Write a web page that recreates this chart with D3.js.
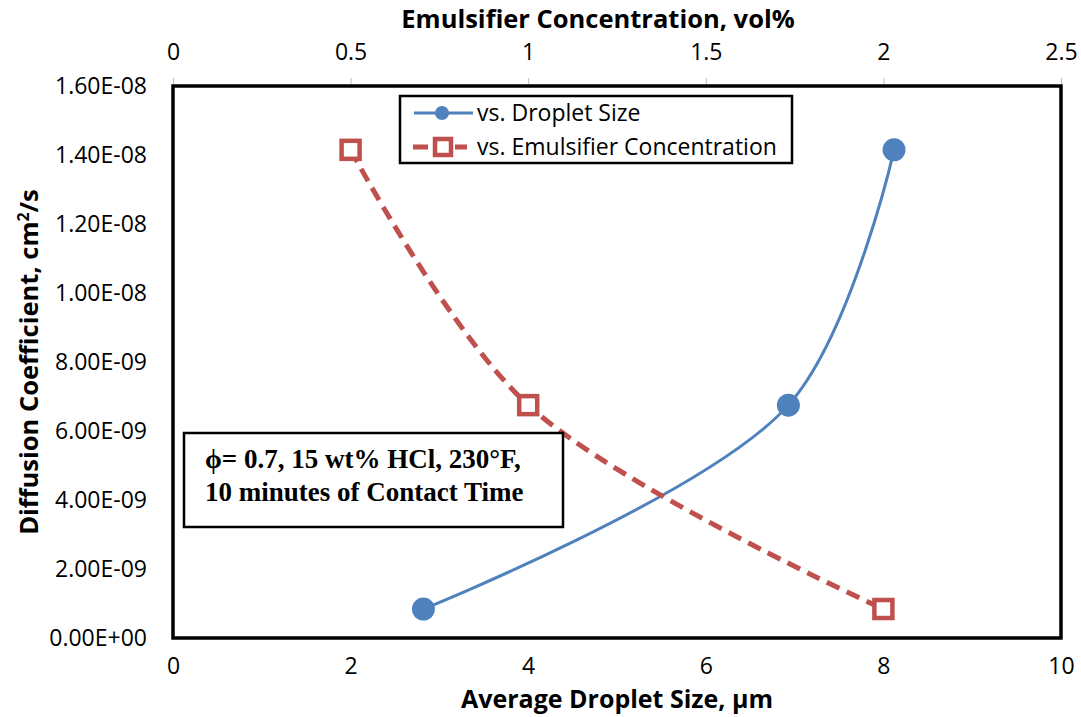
<!DOCTYPE html>
<html>
<head>
<meta charset="utf-8">
<script src="https://cdn.jsdelivr.net/npm/d3@7"></script>
<style>
  body { margin: 0; background: #fff; }
  text { font-family: "Open Sans", "Noto Sans", sans-serif; }
</style>
</head>
<body>
<svg id="chart"></svg>
<script>
const width = 1081;
const height = 717;

// data
var dropletSize = [2.82, 6.93, 8.12];
var dropletDiff = [8.4e-10, 6.75e-9, 1.415e-8];
var emulsConc = [0.5, 1, 2];
var emulsDiff = [1.415e-8, 6.75e-9, 8.4e-10];
var yTicks = [0, 2e-9, 4e-9, 6e-9, 8e-9, 1e-8, 1.2e-8, 1.4e-8, 1.6e-8];
var xTicks = [0, 2, 4, 6, 8, 10];
var x2Ticks = [0, 0.5, 1, 1.5, 2, 2.5];
var seriesNames = ["vs. Droplet Size", "vs. Emulsifier Concentration"];
var noteLines = ["\u03d5= 0.7, 15 wt% HCl, 230\u00b0F,", "10 minutes of Contact Time"];

const blue = "#4f81bd";
const red = "#c0504d";

// plot box (note: "top" is reserved on window, so use other names)
var pL = 173, pR = 1061, pT = 86, pB = 638;

var xScale = d3.scaleLinear().domain([0, 10]).range([pL, pR]);
var x2Scale = d3.scaleLinear().domain([0, 2.5]).range([pL, pR]);
var yScale = d3.scaleLinear().domain([0, 1.6e-8]).range([pB, pT]);

var svg = d3.select("#chart").attr("width", width).attr("height", height);

var tickFont = 23, titleFont = 25.5;

// y axis labels
var fmtE = (v) => {
  var s = v.toExponential(2).toUpperCase();
  return s.replace(/E([+-])(\d)$/, "E$10$2");
};
svg.append("g")
  .attr("transform", `translate(${pL},0)`)
  .call(d3.axisLeft(yScale).tickValues(yTicks).tickFormat(fmtE).tickSize(0).tickPadding(26))
  .call(g => g.select(".domain").remove())
  .selectAll("text")
  .attr("font-size", tickFont).attr("fill", "#000")
  .style("font-family", "'Open Sans', sans-serif");

// bottom axis
svg.append("g")
  .attr("transform", `translate(0,${pB})`)
  .call(d3.axisBottom(xScale).tickValues(xTicks).tickFormat(d3.format("d")).tickSize(0))
  .call(g => g.select(".domain").remove())
  .selectAll("text")
  .attr("y", 36).attr("dy", 0)
  .attr("font-size", tickFont).attr("fill", "#000")
  .style("font-family", "'Open Sans', sans-serif");

// top axis
var topAxis = svg.append("g")
  .attr("transform", `translate(0,${pT})`)
  .call(d3.axisTop(x2Scale).tickValues(x2Ticks).tickFormat(d => d).tickSize(8))
  .call(g => g.select(".domain").remove());
topAxis.selectAll("line").attr("stroke", "#bbb");
topAxis.selectAll("text")
  .attr("y", -26).attr("dy", 0)
  .attr("font-size", tickFont).attr("fill", "#000")
  .style("font-family", "'Open Sans', sans-serif");

// plot frame
svg.append("rect")
  .attr("x", pL).attr("y", pT)
  .attr("width", pR - pL).attr("height", pB - pT)
  .attr("fill", "none").attr("stroke", "#000").attr("stroke-width", 3.5);

// axis titles
svg.append("text")
  .attr("x", 598).attr("y", 28)
  .attr("text-anchor", "middle")
  .attr("font-size", titleFont).attr("font-weight", "bold")
  .text("Emulsifier Concentration, vol%");

svg.append("text")
  .attr("x", 617).attr("y", 708)
  .attr("text-anchor", "middle")
  .attr("font-size", 25).attr("font-weight", "bold")
  .text("Average Droplet Size, \u00b5m");

var yTitle = svg.append("text")
  .attr("transform", `translate(38,${(pT + pB) / 2}) rotate(-90)`)
  .attr("text-anchor", "middle")
  .attr("font-size", titleFont).attr("font-weight", "bold");
yTitle.append("tspan").text("Diffusion Coefficient, cm");
yTitle.append("tspan").attr("dy", -9).attr("font-size", 16).text("2");
yTitle.append("tspan").attr("dy", 9).text("/s");

// lines
var line = d3.line().curve(d3.curveCatmullRom.alpha(0.5));

var bluePts = dropletSize.map((d, i) => [xScale(d), yScale(dropletDiff[i])]);
var redPts = emulsConc.map((d, i) => [x2Scale(d), yScale(emulsDiff[i])]);

svg.append("path")
  .attr("d", line(bluePts))
  .attr("fill", "none").attr("stroke", blue).attr("stroke-width", 3);

svg.append("path")
  .attr("d", line(redPts))
  .attr("fill", "none").attr("stroke", red).attr("stroke-width", 5)
  .attr("stroke-dasharray", "14,8");

svg.selectAll("circle.blue")
  .data(bluePts)
  .enter()
  .append("circle")
  .attr("class", "blue")
  .attr("cx", d => d[0]).attr("cy", d => d[1])
  .attr("r", 11.5).attr("fill", blue);

svg.selectAll("rect.red")
  .data(redPts)
  .enter()
  .append("rect")
  .attr("class", "red")
  .attr("x", d => d[0] - 9).attr("y", d => d[1] - 9)
  .attr("width", 18).attr("height", 18)
  .attr("fill", "#fff").attr("stroke", red).attr("stroke-width", 4.5);

// legend
var legend = svg.append("g");
legend.append("rect")
  .attr("x", 400).attr("y", 96).attr("width", 392).attr("height", 67)
  .attr("fill", "#fff").attr("stroke", "#000").attr("stroke-width", 2.5);

var lg1 = legend.append("g").attr("transform", "translate(0,113)");
lg1.append("line").attr("x1", 414).attr("x2", 473).attr("y1", 0).attr("y2", 0)
  .attr("stroke", blue).attr("stroke-width", 3);
lg1.append("circle").attr("cx", 442).attr("cy", 0).attr("r", 7).attr("fill", blue);
lg1.append("text").attr("x", 477).attr("y", 8).attr("font-size", tickFont).text(seriesNames[0]);

var lg2 = legend.append("g").attr("transform", "translate(0,147)");
lg2.append("line").attr("x1", 413).attr("x2", 475).attr("y1", 0).attr("y2", 0)
  .attr("stroke", red).attr("stroke-width", 5).attr("stroke-dasharray", "15,5,0,22,12");
lg2.append("rect").attr("x", 435).attr("y", -8).attr("width", 16).attr("height", 16)
  .attr("fill", "#fff").attr("stroke", red).attr("stroke-width", 4.5);
lg2.append("text").attr("x", 477).attr("y", 8).attr("font-size", tickFont).text(seriesNames[1]);

// annotation box
var note = svg.append("g");
note.append("rect")
  .attr("x", 184).attr("y", 433).attr("width", 379).attr("height", 94)
  .attr("fill", "#fff").attr("stroke", "#000").attr("stroke-width", 2.5);
note.selectAll("text")
  .data(noteLines)
  .enter()
  .append("text")
  .attr("x", 205).attr("y", (d, i) => 468 + i * 33)
  .attr("font-size", 27).attr("font-weight", "bold")
  .style("font-family", "'Liberation Serif', 'Times New Roman', serif")
  .text(d => d);
</script>
</body>
</html>
